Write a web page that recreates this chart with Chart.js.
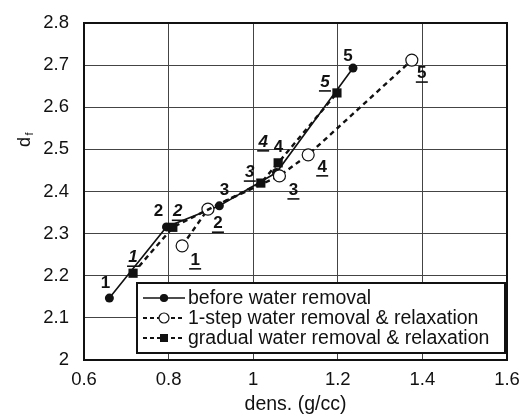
<!DOCTYPE html>
<html>
<head>
<meta charset="utf-8">
<script src="https://cdn.jsdelivr.net/npm/chart.js@4"></script>
<style>
  html, body { margin: 0; padding: 0; background: #fff; }
  #wrap { width: 521px; height: 416px; }
</style>
</head>
<body>
<div id="wrap"><canvas id="chart" width="521" height="416"></canvas></div>
<script>
// --- DATA ---
const pointLabels = ['1', '2', '3', '4', '5'];

const beforeDens = [0.660, 0.795, 0.920, 1.055, 1.236];
const beforeDf   = [2.147, 2.316, 2.366, 2.445, 2.693];

const oneStepDens = [0.832, 0.893, 1.062, 1.130, 1.375];
const oneStepDf   = [2.271, 2.358, 2.437, 2.487, 2.712];

const gradualDens = [0.716, 0.810, 1.018, 1.059, 1.198];
const gradualDf   = [2.206, 2.315, 2.420, 2.468, 2.634];

const xTicks = [0.6, 0.8, 1, 1.2, 1.4, 1.6];
const yTicks = [2, 2.1, 2.2, 2.3, 2.4, 2.5, 2.6, 2.7, 2.8];

const seriesNames = [
  'before water removal',
  '1-step water removal & relaxation',
  'gradual water removal & relaxation'
];

// --- LABEL PLACEMENT (pixel offsets from each point) ---
const beforeOffsets  = [[-4, -15], [-8, -16], [5, -16], [2, -25], [-5, -12]];
const oneStepOffsets = [[13, 14], [10, 14], [14, 14], [14, 12], [10, 13]];
const gradualOffsets = [[0, -16], [5, -16], [-11, -11], [-15, -21], [-12, -11]];

const FONT = '"Liberation Sans", Arial, Helvetica, sans-serif';
const INK = '#111';

function toPoints(xs, ys) {
  return xs.map((x, i) => ({ x: x, y: ys[i] }));
}

// per-dataset drawing style, shared with the legend
const styles = [
  { dash: [], width: 1.6, marker: 'circle', fill: INK, radius: 4.5 },
  { dash: [5, 4], width: 2.4, marker: 'circle', fill: '#fff', radius: 6 },
  { dash: [5, 4], width: 2.4, marker: 'rect', fill: INK, radius: 6.5 }
];

// numbered labels next to points
const pointLabelPlugin = {
  id: 'pointLabels',
  afterDatasetsDraw(chart) {
    const ctx = chart.ctx;
    const xs = chart.scales.x, ys = chart.scales.y;
    const sets = [
      { dens: beforeDens, df: beforeDf, off: beforeOffsets, italic: false, under: false },
      { dens: oneStepDens, df: oneStepDf, off: oneStepOffsets, italic: false, under: true },
      { dens: gradualDens, df: gradualDf, off: gradualOffsets, italic: true, under: true }
    ];
    ctx.save();
    ctx.fillStyle = INK;
    ctx.strokeStyle = INK;
    ctx.textAlign = 'center';
    ctx.textBaseline = 'middle';
    sets.forEach(s => {
      ctx.font = (s.italic ? 'italic ' : '') + 'bold 17px ' + FONT;
      s.dens.forEach((d, i) => {
        const px = xs.getPixelForValue(d) + s.off[i][0];
        const py = ys.getPixelForValue(s.df[i]) + s.off[i][1];
        ctx.fillText(pointLabels[i], px, py);
        if (s.under) {
          ctx.lineWidth = 1.6;
          ctx.beginPath();
          ctx.moveTo(px - 6, py + 9);
          ctx.lineTo(px + 6, py + 9);
          ctx.stroke();
        }
      });
    });
    ctx.restore();
  }
};

function drawMarker(ctx, st, x, y) {
  ctx.save();
  ctx.fillStyle = st.fill;
  ctx.strokeStyle = INK;
  ctx.lineWidth = 1.2;
  ctx.setLineDash([]);
  if (st.marker === 'circle') {
    ctx.beginPath();
    ctx.arc(x, y, st.radius, 0, Math.PI * 2);
    ctx.fill();
    ctx.stroke();
  } else {
    ctx.fillRect(x - st.radius, y - st.radius, st.radius * 2, st.radius * 2);
  }
  ctx.restore();
}

// frame, legend box and y-axis title
const decorPlugin = {
  id: 'decor',
  afterDraw(chart) {
    const ctx = chart.ctx;
    const a = chart.chartArea;
    ctx.save();
    ctx.strokeStyle = INK;
    ctx.lineWidth = 2;
    ctx.strokeRect(a.left, a.top, a.right - a.left, a.bottom - a.top);

    // legend
    const lx = 137, ly = 283, lw = 368, lh = 70;
    ctx.fillStyle = '#fff';
    ctx.fillRect(lx, ly, lw, lh);
    ctx.strokeRect(lx, ly, lw, lh);
    ctx.font = '19.5px ' + FONT;
    ctx.textBaseline = 'middle';
    ctx.textAlign = 'left';
    seriesNames.forEach((name, i) => {
      const y = ly + 15 + i * 20;
      const st = styles[i];
      ctx.lineWidth = st.width === 1.6 ? 1.4 : 2;
      ctx.setLineDash(st.dash.length ? [4, 3] : []);
      ctx.beginPath();
      ctx.moveTo(lx + 6, y);
      ctx.lineTo(lx + 48, y);
      ctx.stroke();
      ctx.setLineDash([]);
      drawMarker(ctx, { ...st, radius: st.marker === 'circle' ? (i === 0 ? 3.5 : 5) : 4 }, lx + 27, y);
      ctx.fillStyle = INK;
      ctx.fillText(name, lx + 51, y + 1);
    });

    // y title d_f
    ctx.translate(25, 140);
    ctx.rotate(-Math.PI / 2);
    ctx.fillStyle = INK;
    ctx.textAlign = 'center';
    ctx.font = '18px ' + FONT;
    ctx.fillText('d', -2, 0);
    ctx.font = '11px ' + FONT;
    ctx.fillText('f', 6, 5);
    ctx.restore();
  }
};

const datasets = [
  { label: seriesNames[0], data: toPoints(beforeDens, beforeDf), order: 3 },
  { label: seriesNames[1], data: toPoints(oneStepDens, oneStepDf), order: 2 },
  { label: seriesNames[2], data: toPoints(gradualDens, gradualDf), order: 1 }
].map((d, i) => {
  const st = styles[i];
  return Object.assign(d, {
    showLine: true,
    borderColor: INK,
    borderWidth: st.width,
    borderDash: st.dash,
    backgroundColor: st.fill,
    pointStyle: st.marker,
    pointRadius: st.radius,
    pointBackgroundColor: st.fill,
    pointBorderColor: INK,
    pointBorderWidth: st.marker === 'circle' && st.fill === '#fff' ? 1.2 : 0,
    tension: 0
  });
});

new Chart(document.getElementById('chart'), {
  type: 'scatter',
  data: { datasets: datasets },
  options: {
    responsive: false,
    animation: false,
    layout: { padding: { top: 23, right: 14, left: 0, bottom: 0 } },
    plugins: { legend: { display: false }, tooltip: { enabled: false } },
    scales: {
      x: {
        type: 'linear',
        min: 0.6, max: 1.6,
        afterBuildTicks(s) { s.ticks = xTicks.map(v => ({ value: v })); },
        afterFit(s) { s.height = 56; s.paddingLeft = 0; s.paddingRight = 0; },
        grid: { color: '#444', lineWidth: 1, drawTicks: false },
        border: { display: false },
        ticks: {
          padding: 9,
          color: INK,
          font: { family: FONT, size: 18.5 },
          callback: v => String(v)
        },
        title: {
          display: true,
          text: 'dens. (g/cc)',
          color: INK,
          font: { family: FONT, size: 19.5 },
          padding: { top: 0, bottom: 0 }
        }
      },
      y: {
        type: 'linear',
        min: 2, max: 2.8,
        afterBuildTicks(s) { s.ticks = yTicks.map(v => ({ value: v })); },
        afterFit(s) { s.width = 84; s.paddingTop = 0; s.paddingBottom = 0; },
        grid: { color: '#444', lineWidth: 1, drawTicks: false },
        border: { display: false },
        ticks: {
          padding: 15,
          color: INK,
          font: { family: FONT, size: 18.5 },
          callback: v => String(Math.round(v * 10) / 10)
        }
      }
    }
  },
  plugins: [pointLabelPlugin, decorPlugin]
});
</script>
</body>
</html>
